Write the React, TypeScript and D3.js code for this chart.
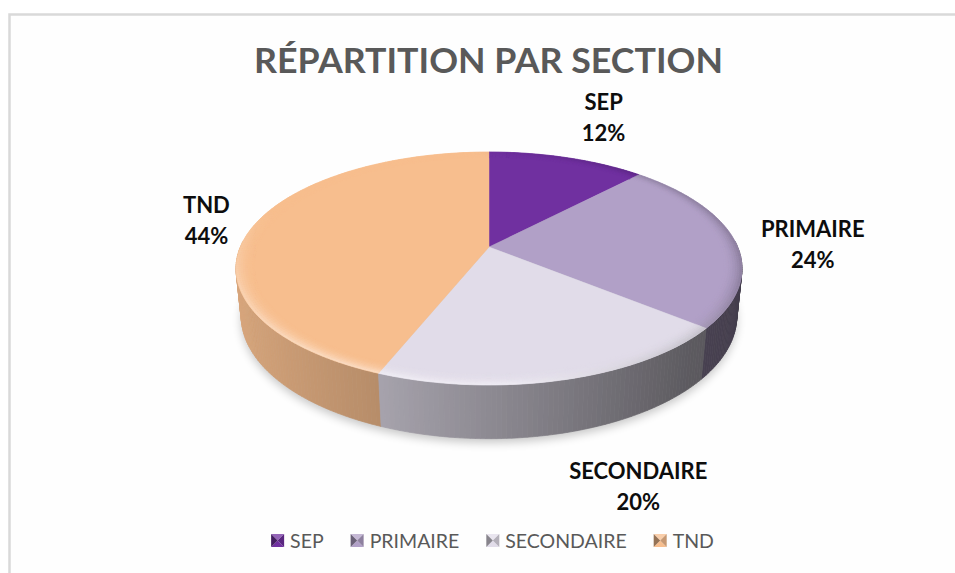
import React from 'react';
import * as d3 from 'd3';

// ---- data ----
const categories = ['SEP', 'PRIMAIRE', 'SECONDAIRE', 'TND'];
const shares = [12, 24, 20, 44];
const percentLabels = ['12%', '24%', '20%', '44%'];
const topColors = ['#7030a0', '#b1a0c7', '#e1dce9', '#f7be8e'];
const titleText = 'RÉPARTITION PAR SECTION';

// ---- layout / style constants ----
const W = 955;
const H = 573;
const CX = 489;
const CY = 247;
const FOCAL = 1201.7;
const DIST = 4.833;
const PHI = (26.9 * Math.PI) / 180;
const THICK = 0.215;
const labelOffsets = [
  [36.5, -32],
  [78.5, 12.5],
  [74, 115],
  [-46.5, 2],
];
const STEP = Math.PI / 180;

const sP = Math.sin(PHI);
const cP = Math.cos(PHI);

function project(x: number, z: number, y: number): [number, number] {
  const yc = y * cP - z * sP;
  const dc = DIST - (z * cP + y * sP);
  return [CX + (FOCAL * x) / dc, CY - (FOCAL * yc) / dc];
}
function rim(theta: number, r: number, y: number): [number, number] {
  return project(r * Math.sin(theta), -r * Math.cos(theta), y);
}
function pts(p: [number, number][]) {
  return p.map((q) => `${q[0].toFixed(2)},${q[1].toFixed(2)}`).join(' ');
}

const wallFactor = d3
  .scaleLinear<number>()
  .domain([-1, -0.37, 0.71, 1])
  .range([0.88, 0.74, 0.41, 0.38])
  .clamp(true);

function shade(color: string, f: number) {
  return d3.interpolateRgb('#000000', color)(f);
}
function bevel(color: string, theta: number, w: number) {
  const hi = 0.5 * Math.max(0, Math.cos(theta - (200 * Math.PI) / 180));
  const lo = 0.22 * Math.max(0, Math.cos(theta - (85 * Math.PI) / 180));
  let c = color;
  if (hi > 0) c = d3.interpolateRgb(c, '#ffffff')(hi * w);
  if (lo > 0) c = d3.interpolateRgb(c, '#000000')(lo * w);
  return c;
}

function measure(text: string, font: string) {
  const cv = document.createElement('canvas');
  const ctx = cv.getContext('2d');
  if (!ctx) return text.length * 10;
  ctx.font = font;
  return ctx.measureText(text).width;
}

export default function App() {
  const pie = d3
    .pie<number>()
    .sort(null)
    .startAngle(0)
    .endAngle(2 * Math.PI)(shares);

  const segs = (a0: number, a1: number) => {
    const n = Math.max(1, Math.ceil((a1 - a0) / STEP));
    const out: [number, number][] = [];
    for (let i = 0; i < n; i++) {
      out.push([a0 + ((a1 - a0) * i) / n, a0 + ((a1 - a0) * (i + 1)) / n]);
    }
    return out;
  };

  // walls
  const walls: { z: number; p: string; c: string }[] = [];
  pie.forEach((d, i) => {
    segs(d.startAngle, d.endAngle).forEach(([t0, t1]) => {
      const tm = (t0 + t1) / 2;
      if (Math.cos(tm) > 0.05) return;
      const poly = [rim(t0, 1, 0), rim(t1, 1, 0), rim(t1, 1, -THICK), rim(t0, 1, -THICK)];
      walls.push({
        z: -Math.cos(tm),
        p: pts(poly),
        c: shade(topColors[i], wallFactor(Math.sin(tm))),
      });
    });
  });
  walls.sort((a, b) => a.z - b.z);

  // top faces
  const tops = pie.map((d, i) => {
    const arcPts: [number, number][] = [project(0, 0, 0)];
    const n = Math.max(2, Math.ceil((d.endAngle - d.startAngle) / STEP));
    for (let k = 0; k <= n; k++) {
      arcPts.push(rim(d.startAngle + ((d.endAngle - d.startAngle) * k) / n, 1, 0));
    }
    return { p: pts(arcPts), c: topColors[i] };
  });

  // smooth bevel rings on top faces
  const NR = 8;
  const R0 = 0.93;
  const rings: [number, number, number][] = [];
  for (let k = 0; k < NR; k++) {
    const r0 = R0 + ((1 - R0) * k) / NR;
    const r1 = R0 + ((1 - R0) * (k + 1)) / NR;
    const t = (k + 0.5) / NR;
    rings.push([r0, r1, t * t]);
  }
  const bevels: { p: string; c: string }[] = [];
  pie.forEach((d, i) => {
    segs(d.startAngle, d.endAngle).forEach(([t0, t1]) => {
      const tm = (t0 + t1) / 2;
      rings.forEach(([r0, r1, w]) => {
        const poly = [rim(t0, r0, 0), rim(t1, r0, 0), rim(t1, r1, 0), rim(t0, r1, 0)];
        bevels.push({ p: pts(poly), c: bevel(topColors[i], tm, w) });
      });
    });
  });

  // shadow outline (bottom rim)
  const shadowPts: [number, number][] = [];
  for (let k = 0; k <= 360; k += 2) {
    const [x, y] = rim((k * Math.PI) / 180, 1.0, -THICK);
    shadowPts.push([x, y + 4]);
  }

  // labels
  const labels = pie.map((d, i) => {
    const tm = (d.startAngle + d.endAngle) / 2;
    const [ax, ay] = rim(tm, 1, 0);
    return {
      x: ax + labelOffsets[i][0],
      y: ay + labelOffsets[i][1],
      name: categories[i],
      pct: percentLabels[i],
    };
  });

  // legend layout
  const legendFont = '19.5px Lato';
  const mk = 13;
  const mkGap = 6;
  const itemGap = 27;
  const widths = categories.map((c) => measure(c, legendFont));
  const total = widths.reduce((s, w) => s + mk + mkGap + w, 0) + itemGap * (categories.length - 1);
  let lx = 492.5 - total / 2;
  const legendItems = categories.map((c, i) => {
    const item = { x: lx, name: c, color: topColors[i] };
    lx += mk + mkGap + widths[i] + itemGap;
    return item;
  });
  const legendY = 534;

  return (
    <svg
      width={W}
      height={H}
      viewBox={`0 0 ${W} ${H}`}
      style={{ position: 'absolute', left: 0, top: 0, background: '#ffffff' }}
    >
      <defs>
        <filter id="blur" x="-20%" y="-20%" width="140%" height="140%">
          <feGaussianBlur stdDeviation="5" />
        </filter>
      </defs>
      <rect x={9.5} y={14.5} width={W + 20} height={H + 20} fill="#fefefe" stroke="#d9d9d9" strokeWidth={2.5} />

      <text
        x={488.5}
        y={73}
        textAnchor="middle"
        fontFamily="Lato, 'Open Sans', sans-serif"
        fontWeight={700}
        fontSize={35}
        fill="#595959"
        textLength={469}
        lengthAdjust="spacingAndGlyphs"
      >
        {titleText}
      </text>

      <polygon points={pts(shadowPts)} fill="#000" opacity={0.22} filter="url(#blur)" />

      <g>
        {walls.map((w, i) => (
          <polygon key={'w' + i} points={w.p} fill={w.c} stroke={w.c} strokeWidth={0.7} />
        ))}
      </g>
      <g>
        {tops.map((t, i) => (
          <polygon key={'t' + i} points={t.p} fill={t.c} stroke={t.c} strokeWidth={0.5} />
        ))}
      </g>
      <g>
        {bevels.map((b, i) => (
          <polygon key={'b' + i} points={b.p} fill={b.c} stroke={b.c} strokeWidth={0.4} />
        ))}
      </g>

      <g fontFamily="Lato, 'Open Sans', sans-serif" fontWeight={700} fontSize={22} fill="#0d0d0d" textAnchor="middle">
        {labels.map((l, i) => (
          <text key={'l' + i} x={l.x} y={l.y}>
            <tspan x={l.x} y={l.y - 15.5}>
              {l.name}
            </tspan>
            <tspan x={l.x} y={l.y + 15.5}>
              {l.pct}
            </tspan>
          </text>
        ))}
      </g>

      <g>
        {legendItems.map((it, i) => {
          const x = it.x;
          const y = legendY;
          const s = mk;
          const cxm = x + s / 2;
          const cym = y + s / 2;
          return (
            <g key={'g' + i}>
              <polygon points={pts([[x, y], [x + s, y], [cxm, cym]])} fill={d3.interpolateRgb(it.color, '#fff')(0.25)} />
              <polygon points={pts([[x, y + s], [x + s, y + s], [cxm, cym]])} fill={it.color} />
              <polygon points={pts([[x, y], [x, y + s], [cxm, cym]])} fill={shade(it.color, 0.6)} />
              <polygon points={pts([[x + s, y], [x + s, y + s], [cxm, cym]])} fill={shade(it.color, 0.8)} />
              <text
                x={x + s + mkGap}
                y={y + 14}
                fontFamily="Lato, 'Open Sans', sans-serif"
                fontSize={19.5}
                fill="#595959"
              >
                {it.name}
              </text>
            </g>
          );
        })}
      </g>
    </svg>
  );
}
